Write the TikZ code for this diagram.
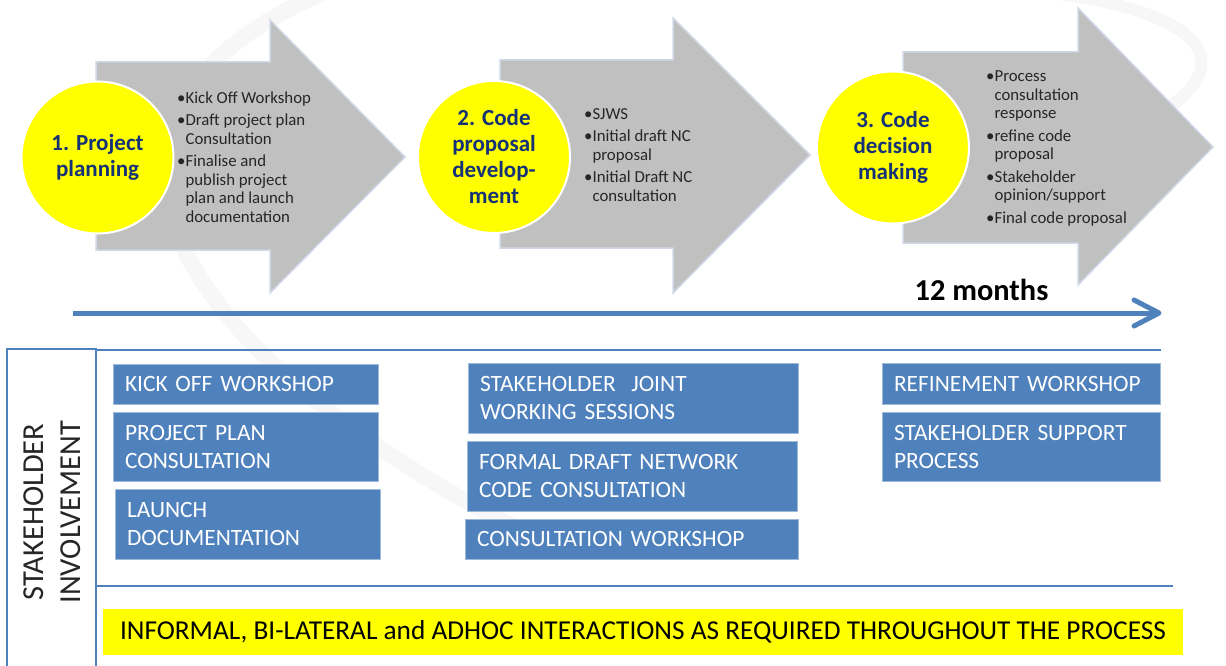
\documentclass[tikz,border=0pt]{standalone}
\usepackage{fontspec}
\setmainfont{Carlito}
\definecolor{phasegray}{RGB}{192,192,192}
\definecolor{phaseedge}{RGB}{208,215,230}
\definecolor{navy}{RGB}{22,50,118}
\definecolor{boxblue}{RGB}{79,129,189}
\definecolor{swoosh}{RGB}{247,247,247}
\definecolor{brightyellow}{RGB}{255,255,0}
\tikzset{
  phase/.style={fill=phasegray, draw=phaseedge, line width=1.5pt},
  stage/.style={circle, fill=brightyellow, draw=white, line width=2pt, minimum size=152pt,
    inner sep=0pt, align=center, text=navy, font=\fontsize{23}{26}\selectfont\bfseries},
  bullets/.style={anchor=west, align=left, inner sep=0pt, text=black!85,
    font=\fontsize{16.8}{18.5}\selectfont},
  stbox/.style={fill=boxblue, draw=boxblue!55!white, line width=.8pt, text=white,
    align=left, inner xsep=12pt, inner ysep=0pt, text width=#1,
    font=\fontsize{23.4}{28}\selectfont},
  rule/.style={draw=boxblue, line width=1.5pt},
  timeline/.style={draw=boxblue, line width=5pt, line cap=round, line join=round},
  banner/.style={fill=brightyellow, minimum width=1080pt, minimum height=46pt, inner sep=0pt,
    font=\fontsize{27.3}{30}\selectfont},
}
\begin{document}
\begin{tikzpicture}[x=1pt,y=-1pt]
  \useasboundingbox (0,0) rectangle (1226,666);
  % background swoosh
  \draw[swoosh, line width=16pt] (330,-10) .. controls (40,110) and (150,340) .. (520,530);
  \draw[swoosh, line width=12pt] (760,-10) .. controls (1180,-40) and (1330,60) .. (1080,150);
  % phase arrows
  \draw[phase] (96,62) -- (270,62) -- (270,20) -- (405,157) -- (270,293) -- (270,250) -- (96,250) -- cycle;
  \draw[phase] (500,60) -- (673,60) -- (673,18) -- (810,155) -- (673,293) -- (673,248) -- (500,248) -- cycle;
  \draw[phase] (903,52) -- (1078,52) -- (1078,8) -- (1213,147) -- (1078,285) -- (1078,243) -- (903,243) -- cycle;
  % stages
  \node[stage] (plan) at (97.5,157.5) {1. Project\\planning};
  \node[stage] (develop) at (494,157) {2. Code\\proposal\\develop-\\ment};
  \node[stage] (decide) at (893,147.5) {3. Code\\decision\\making};
  % stage contents
  \node[bullets] (planlist) at (177,157) {•Kick Off Workshop\\[4pt]
    •Draft project plan\\\phantom{•}Consultation\\[4pt]
    •Finalise and\\\phantom{•}publish project\\\phantom{•}plan and launch\\\phantom{•}documentation};
  \node[bullets] (developlist) at (584,155) {•SJWS\\[4pt]
    •Initial draft NC\\\phantom{•}proposal\\[4pt]
    •Initial Draft NC\\\phantom{•}consultation};
  \node[bullets] (decidelist) at (986,148.5) {•Process\\\phantom{•}consultation\\\phantom{•}response\\[4pt]
    •refine code\\\phantom{•}proposal\\[4pt]
    •Stakeholder\\\phantom{•}opinion/support\\[4pt]
    •Final code proposal};
  % timeline
  \node[font=\fontsize{30.4}{32}\selectfont\bfseries, anchor=base] (months) at (981.5,300) {12 months};
  \coordinate (tstart) at (73,313);
  \coordinate (tend) at (1159,313);
  \draw[timeline, line cap=butt] (tstart) -- (tend);
  \draw[timeline] ([shift={(-25,-13)}]tend) -- (tend) -- ([shift={(-25,13)}]tend);
  % stakeholder frame
  \draw[rule] (7,672) -- (7,349) -- (96,349) -- (96,672);
  \draw[rule] (96,350) -- (1161,350);
  \draw[rule] (96,586) -- (1173,586);
  \node[rotate=90, align=center, text=black!85, font=\fontsize{30.5}{37}\selectfont] (involve) at (52,512) {STAKEHOLDER\\INVOLVEMENT};
  % involvement boxes
  \node[stbox=241pt, minimum height=40pt] (kickoff) at (245.5,384) {KICK OFF WORKSHOP};
  \node[stbox=241pt, minimum height=69pt] (plancons) at (245.5,446.5) {PROJECT PLAN\\CONSULTATION};
  \node[stbox=241pt, minimum height=70pt] (launch) at (247.5,524) {LAUNCH\\DOCUMENTATION};
  \node[stbox=306pt, minimum height=70pt] (sjws) at (633,398) {STAKEHOLDER\ \ JOINT\\WORKING SESSIONS};
  \node[stbox=306pt, minimum height=70pt] (formal) at (632,476) {FORMAL DRAFT NETWORK\\CODE CONSULTATION};
  \node[stbox=309pt, minimum height=40pt] (conswork) at (631.5,539) {CONSULTATION WORKSHOP};
  \node[stbox=254pt, minimum height=41pt] (refine) at (1021,383.5) {REFINEMENT WORKSHOP};
  \node[stbox=254pt, minimum height=69pt] (support) at (1021,446.5) {STAKEHOLDER SUPPORT\\PROCESS};
  % informal interactions
  \node[banner] (informal) at (643,632) {INFORMAL, BI-LATERAL and ADHOC INTERACTIONS AS REQUIRED THROUGHOUT THE PROCESS};
\end{tikzpicture}
\end{document}
